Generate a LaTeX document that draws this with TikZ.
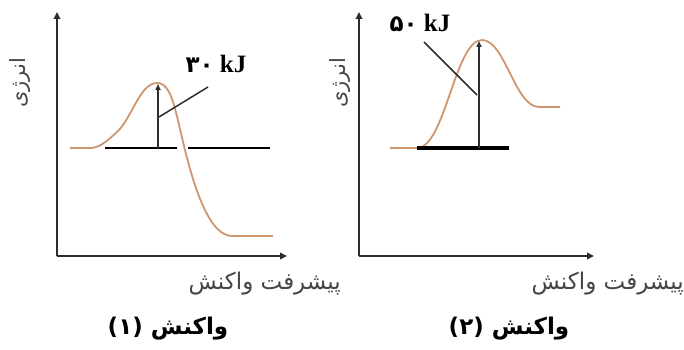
\documentclass[tikz,border=0pt]{standalone}
\usepackage{fontspec}
\setmainfont{Liberation Serif}
\newfontfamily\fa[Script=Arabic]{DejaVu Sans}
\TeXXeTstate=1
\usetikzlibrary{arrows.meta}
\definecolor{curvec}{RGB}{205,150,112}
\definecolor{axisc}{RGB}{45,45,45}
\definecolor{labc}{RGB}{70,70,70}
\tikzset{
  axisline/.style={draw=axisc, line width=2.8pt, -{Triangle[length=7pt,width=6.5pt]}},
  ecurve/.style={draw=curvec, line width=1.8pt},
  levelline/.style={draw=black, line width=2.6pt},
  earrow/.style={draw=axisc, line width=1.6pt, -{Triangle[length=6pt,width=5pt]}},
  leader/.style={draw=axisc, line width=1.5pt},
  xlab/.style={text=labc, font=\fa\fontsize{23}{26}\selectfont, anchor=east, inner sep=0pt},
  ylab/.style={text=labc, font=\fa\fontsize{21}{24}\selectfont, rotate=90, inner sep=0pt},
  captext/.style={font=\fa\bfseries\fontsize{23}{26}\selectfont, inner sep=0pt},
  elab/.style={font=\bfseries\fontsize{25}{29}\selectfont, inner sep=0pt}
}
\begin{document}
\begin{tikzpicture}[x=1pt,y=-1pt]
\useasboundingbox (0,0) rectangle (684,350);
% ---------- panel 1 ----------
\coordinate (o1) at (57,256);
\coordinate (y1) at (57,12);
\coordinate (x1) at (287,256);
\draw[axisline] (o1) -- (y1);
\draw[axisline] (o1) -- (x1);
\draw[ecurve] (70,148) -- (90,148) .. controls (100,148) and (108,140) .. (117,132)
  .. controls (132,118) and (140,83) .. (157,83)
  .. controls (172,83) and (175,110) .. (185,150)
  .. controls (195,190) and (210,236) .. (232,236) -- (273,236);
\coordinate (l1a) at (105,148);
\coordinate (l1b) at (177,148);
\coordinate (l1c) at (188,148);
\coordinate (l1d) at (270,148);
\draw[levelline] (l1a) -- (l1b);
\draw[levelline] (l1c) -- (l1d);
\coordinate (a1s) at (158,148);
\coordinate (a1e) at (158,84);
\draw[earrow] (a1s) -- (a1e);
\coordinate (p1a) at (159,117);
\coordinate (p1b) at (208,87);
\draw[leader] (p1a) -- (p1b);
\node[elab] (e1) at (216,64) {{\fa\fontsize{23}{27}\selectfont ۳۰} kJ};
\node[ylab] (yl1) at (20,83) {\beginR انرژی\endR};
\node[xlab] (xl1) at (341,284) {\beginR پیشرفت واکنش\endR};
\node[captext] (c1) at (168,329) {(۱)\ \beginR واکنش\endR};
% ---------- panel 2 ----------
\coordinate (o2) at (359,256);
\coordinate (y2) at (359,12);
\coordinate (x2) at (594,256);
\draw[axisline] (o2) -- (y2);
\draw[axisline] (o2) -- (x2);
\draw[ecurve] (390,148) -- (417,148) .. controls (445,148) and (455,40) .. (482,40)
  .. controls (505,40) and (515,107) .. (539,107) -- (560,107);
\coordinate (l2a) at (417,148);
\coordinate (l2b) at (509,148);
\draw[levelline, line width=3.6pt] (l2a) -- (l2b);
\coordinate (a2s) at (479,148);
\coordinate (a2e) at (479,41);
\draw[earrow] (a2s) -- (a2e);
\coordinate (p2a) at (424,42);
\coordinate (p2b) at (477,95);
\draw[leader] (p2a) -- (p2b);
\node[elab] (e2) at (420,23) {{\fa\fontsize{23}{27}\selectfont ۵۰} kJ};
\node[ylab] (yl2) at (340,83) {\beginR انرژی\endR};
\node[xlab] (xl2) at (684,284) {\beginR پیشرفت واکنش\endR};
\node[captext] (c2) at (509,329) {(۲)\ \beginR واکنش\endR};
\end{tikzpicture}
\end{document}
